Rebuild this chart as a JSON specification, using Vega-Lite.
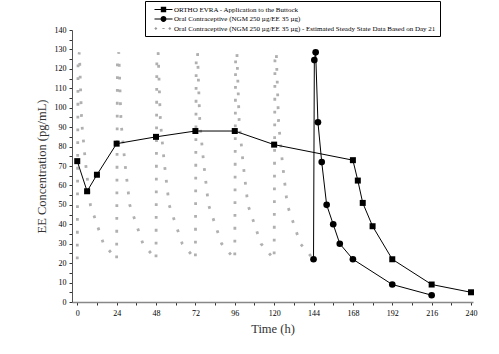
{
  "$schema": "https://vega.github.io/schema/vega-lite/v6.json",
  "width": 401,
  "height": 272,
  "autosize": {"type": "none"},
  "padding": {"left": 72, "top": 30, "right": 26, "bottom": 52},
  "background": "white",
  "config": {
    "view": {"stroke": null},
    "font": "Liberation Serif",
    "axis": {
      "labelFont": "Liberation Serif",
      "labelFontSize": 8,
      "labelColor": "#000",
      "titleFont": "Liberation Serif",
      "titleFontSize": 12.5,
      "titleFontWeight": "normal",
      "titleColor": "#333",
      "grid": false,
      "tickSize": 3,
      "tickColor": "#333",
      "domainColor": "#555"
    },
    "legend": {
      "labelFont": "Liberation Serif",
      "labelFontSize": 7,
      "labelColor": "#000",
      "labelLimit": 0,
      "padding": 4,
      "strokeColor": "#000",
      "fillColor": "#fff",
      "symbolSize": 81,
      "symbolStrokeWidth": 0,
      "symbolOffset": 10,
      "labelOffset": 6,
      "rowPadding": 1.5
    }
  },
  "data": {
    "values": [
      {"s": "ORTHO EVRA - Application to the Buttock", "t": 0, "c": 72.5},
      {"s": "ORTHO EVRA - Application to the Buttock", "t": 6, "c": 57},
      {"s": "ORTHO EVRA - Application to the Buttock", "t": 12, "c": 65.5},
      {"s": "ORTHO EVRA - Application to the Buttock", "t": 24, "c": 81.5},
      {"s": "ORTHO EVRA - Application to the Buttock", "t": 48, "c": 85},
      {"s": "ORTHO EVRA - Application to the Buttock", "t": 72, "c": 88},
      {"s": "ORTHO EVRA - Application to the Buttock", "t": 96, "c": 88},
      {"s": "ORTHO EVRA - Application to the Buttock", "t": 120, "c": 81},
      {"s": "ORTHO EVRA - Application to the Buttock", "t": 168, "c": 73},
      {"s": "ORTHO EVRA - Application to the Buttock", "t": 171, "c": 62.5},
      {"s": "ORTHO EVRA - Application to the Buttock", "t": 174, "c": 51},
      {"s": "ORTHO EVRA - Application to the Buttock", "t": 180, "c": 39},
      {"s": "ORTHO EVRA - Application to the Buttock", "t": 192, "c": 22},
      {"s": "ORTHO EVRA - Application to the Buttock", "t": 216, "c": 9},
      {"s": "ORTHO EVRA - Application to the Buttock", "t": 240, "c": 5},
      {"s": "Oral Contraceptive (NGM 250 µg/EE 35 µg)", "t": 144, "c": 22},
      {"s": "Oral Contraceptive (NGM 250 µg/EE 35 µg)", "t": 144.5, "c": 124.5},
      {"s": "Oral Contraceptive (NGM 250 µg/EE 35 µg)", "t": 145.3, "c": 128.5},
      {"s": "Oral Contraceptive (NGM 250 µg/EE 35 µg)", "t": 146.7, "c": 92.5},
      {"s": "Oral Contraceptive (NGM 250 µg/EE 35 µg)", "t": 149, "c": 72},
      {"s": "Oral Contraceptive (NGM 250 µg/EE 35 µg)", "t": 152, "c": 50},
      {"s": "Oral Contraceptive (NGM 250 µg/EE 35 µg)", "t": 156, "c": 40},
      {"s": "Oral Contraceptive (NGM 250 µg/EE 35 µg)", "t": 160, "c": 30},
      {"s": "Oral Contraceptive (NGM 250 µg/EE 35 µg)", "t": 168, "c": 22},
      {"s": "Oral Contraceptive (NGM 250 µg/EE 35 µg)", "t": 192, "c": 9},
      {"s": "Oral Contraceptive (NGM 250 µg/EE 35 µg)", "t": 216, "c": 3.5},
      {"s": "steady", "t": 0, "c": 22},
      {"s": "steady", "t": 0.5, "c": 124.5},
      {"s": "steady", "t": 1.3, "c": 128.5},
      {"s": "steady", "t": 2.7, "c": 92.5},
      {"s": "steady", "t": 5, "c": 72},
      {"s": "steady", "t": 8, "c": 50},
      {"s": "steady", "t": 12, "c": 40},
      {"s": "steady", "t": 16, "c": 30},
      {"s": "steady", "t": 24, "c": 22},
      {"s": "steady", "t": 24.5, "c": 124.5},
      {"s": "steady", "t": 25.3, "c": 128.5},
      {"s": "steady", "t": 26.7, "c": 92.5},
      {"s": "steady", "t": 29, "c": 72},
      {"s": "steady", "t": 32, "c": 50},
      {"s": "steady", "t": 36, "c": 40},
      {"s": "steady", "t": 40, "c": 30},
      {"s": "steady", "t": 48, "c": 22},
      {"s": "steady", "t": 48.5, "c": 124.5},
      {"s": "steady", "t": 49.3, "c": 128.5},
      {"s": "steady", "t": 50.7, "c": 92.5},
      {"s": "steady", "t": 53, "c": 72},
      {"s": "steady", "t": 56, "c": 50},
      {"s": "steady", "t": 60, "c": 40},
      {"s": "steady", "t": 64, "c": 30},
      {"s": "steady", "t": 72, "c": 22},
      {"s": "steady", "t": 72.5, "c": 124.5},
      {"s": "steady", "t": 73.3, "c": 128.5},
      {"s": "steady", "t": 74.7, "c": 92.5},
      {"s": "steady", "t": 77, "c": 72},
      {"s": "steady", "t": 80, "c": 50},
      {"s": "steady", "t": 84, "c": 40},
      {"s": "steady", "t": 88, "c": 30},
      {"s": "steady", "t": 96, "c": 22},
      {"s": "steady", "t": 96.5, "c": 124.5},
      {"s": "steady", "t": 97.3, "c": 128.5},
      {"s": "steady", "t": 98.7, "c": 92.5},
      {"s": "steady", "t": 101, "c": 72},
      {"s": "steady", "t": 104, "c": 50},
      {"s": "steady", "t": 108, "c": 40},
      {"s": "steady", "t": 112, "c": 30},
      {"s": "steady", "t": 120, "c": 22},
      {"s": "steady", "t": 120.5, "c": 124.5},
      {"s": "steady", "t": 121.3, "c": 128.5},
      {"s": "steady", "t": 122.7, "c": 92.5},
      {"s": "steady", "t": 125, "c": 72},
      {"s": "steady", "t": 128, "c": 50},
      {"s": "steady", "t": 132, "c": 40},
      {"s": "steady", "t": 136, "c": 30},
      {"s": "steady", "t": 144, "c": 22}
    ]
  },
  "encoding": {
    "x": {
      "field": "t", "type": "quantitative", "title": "Time (h)",
      "scale": {"domain": [-3.2, 241.2], "nice": false, "zero": false},
      "axis": {
        "values": [0, 12, 24, 36, 48, 60, 72, 84, 96, 108, 120, 132, 144, 156, 168, 180, 192, 204, 216, 228, 240],
        "labelExpr": "datum.value % 24 == 0 ? datum.label : ''",
        "labelPadding": 4, "titlePadding": 5, "domainWidth": 1.5, "domainColor": "#888",
        "titleFontWeight": "normal"
      }
    },
    "y": {
      "field": "c", "type": "quantitative", "title": "EE Concentration (pg/mL)",
      "scale": {"domain": [0, 140], "nice": false},
      "axis": {
        "values": [0, 5, 10, 15, 20, 25, 30, 35, 40, 45, 50, 55, 60, 65, 70, 75, 80, 85, 90, 95, 100, 105, 110, 115, 120, 125, 130, 135, 140],
        "labelExpr": "datum.value % 10 == 0 ? datum.label : ''",
        "labelPadding": 3, "titlePadding": 6,
        "titleFontWeight": "normal"
      }
    }
  },
  "layer": [
    {
      "transform": [{"filter": {"field": "s", "equal": "steady"}}],
      "mark": {"type": "line", "color": "#b0b0b0", "strokeWidth": 2.8, "strokeDash": [2.8, 10]}
    },
    {
      "transform": [{"filter": {"not": {"field": "s", "equal": "steady"}}}],
      "mark": {"type": "line", "color": "#000", "strokeWidth": 1},
      "encoding": {"detail": {"field": "s"}}
    },
    {
      "transform": [{"filter": {"field": "s", "equal": "ORTHO EVRA - Application to the Buttock"}}],
      "mark": {"type": "point", "shape": "square", "filled": true, "color": "#000", "size": 36, "opacity": 1}
    },
    {
      "transform": [{"filter": {"field": "s", "equal": "Oral Contraceptive (NGM 250 µg/EE 35 µg)"}}],
      "mark": {"type": "point", "shape": "circle", "filled": true, "color": "#000", "size": 44, "opacity": 1}
    },
    {
      "transform": [{"filter": {"field": "s", "equal": "none"}}],
      "mark": {"type": "point", "filled": true, "opacity": 1, "strokeWidth": 0},
      "encoding": {
        "x": {"field": "t", "type": "quantitative"},
        "y": {"field": "c", "type": "quantitative"},
        "color": {
          "field": "s", "type": "nominal",
          "scale": {
            "domain": ["ORTHO EVRA - Application to the Buttock", "Oral Contraceptive (NGM 250 µg/EE 35 µg)", "Oral Contraceptive (NGM 250 µg/EE 35 µg) - Estimated Steady State Data Based on Day 21"],
            "range": ["#000000", "#000000", "#9a9a9a"]
          },
          "legend": {"orient": "none", "legendX": 73, "legendY": -29, "title": null}
        },
        "shape": {
          "field": "s", "type": "nominal",
          "scale": {
            "domain": ["ORTHO EVRA - Application to the Buttock", "Oral Contraceptive (NGM 250 µg/EE 35 µg)", "Oral Contraceptive (NGM 250 µg/EE 35 µg) - Estimated Steady State Data Based on Day 21"],
            "range": [
              "M-2,-0.12H2V0.12H-2Z M-0.6,-0.6H0.6V0.6H-0.6Z",
              "M-2,-0.12H2V0.12H-2Z M-0.65,0A0.65,0.65 0 1,1 0.65,0A0.65,0.65 0 1,1 -0.65,0Z",
              "M-1.7,-0.35L-1.35,0L-1.7,0.35L-2.05,0Z M1.4,-0.35L1.75,0L1.4,0.35L1.05,0Z M-0.25,-0.1H0.25V0.1H-0.25Z"
            ]
          },
          "legend": {"orient": "none", "legendX": 73, "legendY": -29, "title": null}
        }
      }
    }
  ]
}
